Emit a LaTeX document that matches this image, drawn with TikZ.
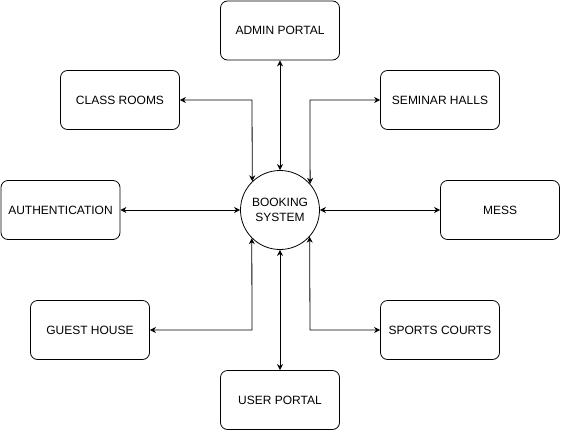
\documentclass[tikz,border=0pt]{standalone}
\usepackage{fontspec}
\setmainfont{Liberation Sans}
\usetikzlibrary{arrows.meta}
\begin{document}
\begin{tikzpicture}[x=1pt,y=-1pt,
  box/.style={draw,rounded corners=7pt,minimum width=119pt,minimum height=59pt,inner sep=0pt,font=\fontsize{12}{14}\selectfont,line width=0.8pt},
  hub/.style={draw,circle,minimum size=79pt,inner sep=0pt,align=center,font=\fontsize{12}{14.5}\selectfont,line width=0.8pt},
  link/.style={line width=0.8pt,{Stealth[length=6pt,width=6pt]}-{Stealth[length=6pt,width=6pt]}}]
\useasboundingbox (0,0) rectangle (561,431);
\node[hub] (c) at (280,210) {BOOKING\\SYSTEM};
\node[box] (ap) at (280,30.5) {ADMIN PORTAL};
\node[box] (cr) at (120,100) {CLASS ROOMS};
\node[box] (sh) at (440,100) {SEMINAR HALLS};
\node[box] (au) at (60.5,210) {AUTHENTICATION};
\node[box] (ms) at (500,210) {MESS};
\node[box] (gh) at (90,330) {GUEST HOUSE};
\node[box] (sc) at (440,330) {SPORTS COURTS};
\node[box] (up) at (280,400) {USER PORTAL};
\coordinate (b1) at (252,100);
\coordinate (b2) at (310,100);
\coordinate (b3) at (252,330);
\coordinate (b4) at (310,330);
\draw[link] (ap) -- (c);
\draw[link] (up) -- (c);
\draw[link] (au) -- (c);
\draw[link] (ms) -- (c);
\draw[link] (cr.east) -- (b1) -- (c.134.4);
\draw[link] (sh.west) -- (b2) -- (c.41.4);
\draw[link] (gh.east) -- (b3) -- (c.225.6);
\draw[link] (sc.west) -- (b4) -- (c.318.6);
\end{tikzpicture}
\end{document}
